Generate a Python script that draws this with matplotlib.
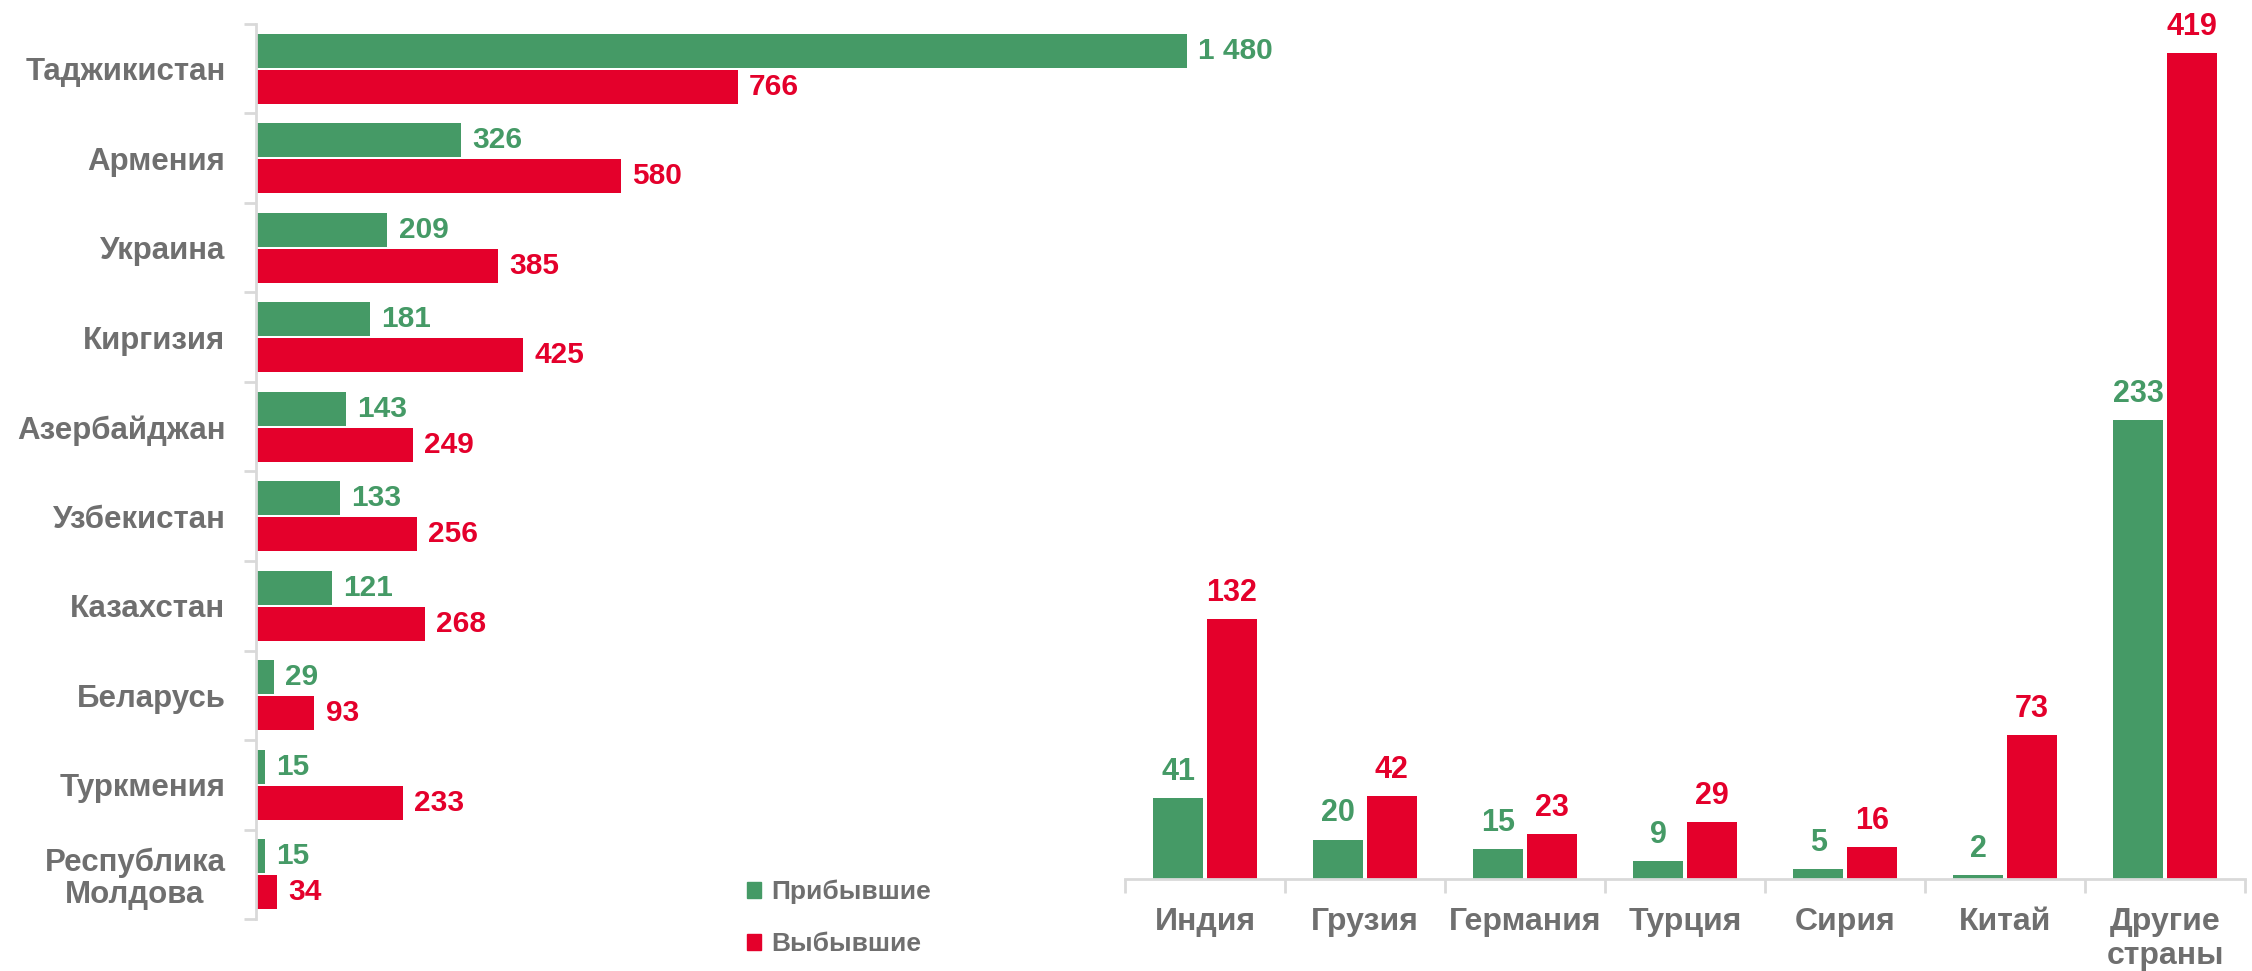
import numpy as np
import matplotlib
matplotlib.use("Agg")
import matplotlib.pyplot as plt
from matplotlib.patches import Patch

plt.rcParams['font.family'] = ['Liberation Sans', 'DejaVu Sans']
plt.rcParams['font.weight'] = 'bold'

# данные: страны СНГ (левая диаграмма)
cis_countries = ['Таджикистан', 'Армения', 'Украина', 'Киргизия', 'Азербайджан',
                 'Узбекистан', 'Казахстан', 'Беларусь', 'Туркмения', 'Республика\nМолдова']
cis_arrived = [1480, 326, 209, 181, 143, 133, 121, 29, 15, 15]
cis_departed = [766, 580, 385, 425, 249, 256, 268, 93, 233, 34]

# данные: страны дальнего зарубежья (правая диаграмма)
far_countries = ['Индия', 'Грузия', 'Германия', 'Турция', 'Сирия', 'Китай', 'Другие\nстраны']
far_arrived = [41, 20, 15, 9, 5, 2, 233]
far_departed = [132, 42, 23, 29, 16, 73, 419]

legend_labels = ['Прибывшие', 'Выбывшие']

GREEN = '#459a66'
RED = '#e4002b'
GRAY = '#6f6f6f'
LINE = '#d9d9d9'


def fmt(v):
    return f'{v:,}'.replace(',', ' ')


fig = plt.figure(figsize=(22.52, 9.71), dpi=100)
fig.patch.set_facecolor('white')

# левая диаграмма - горизонтальные столбцы
ax1 = fig.add_axes([256 / 2252, 52 / 971, 1044 / 2252, 895 / 971])
ax1.patch.set_alpha(0)
y = np.arange(len(cis_countries))
h = 0.38
b1 = ax1.barh(y - 0.2, cis_arrived, height=h, color=GREEN)
b2 = ax1.barh(y + 0.2, cis_departed, height=h, color=RED)
for bars, vals, c in [(b1, cis_arrived, GREEN), (b2, cis_departed, RED)]:
    for bar, v in zip(bars, vals):
        ax1.annotate(fmt(v), (bar.get_width(), bar.get_y() + bar.get_height() / 2),
                     xytext=(8, 0), textcoords='offset points', ha='left', va='center',
                     fontsize=21.5, fontweight='bold', color=c)
ax1.set_xlim(0, 1660)
ax1.set_ylim(len(cis_countries) - 0.5, -0.5)
ax1.set_yticks(y)
ax1.set_yticklabels(cis_countries, fontsize=22.5, fontweight='bold', color=GRAY,
                    multialignment='center', linespacing=1.1)
ax1.set_yticks(np.arange(len(cis_countries) + 1) - 0.5, minor=True)
ax1.tick_params(axis='y', which='major', length=0, pad=22)
ax1.tick_params(axis='y', which='minor', length=9, width=2, color=LINE)
ax1.set_xticks([])
for s in ['top', 'right', 'bottom']:
    ax1.spines[s].set_visible(False)
ax1.spines['left'].set_color(LINE)
ax1.spines['left'].set_linewidth(2)

# правая диаграмма - вертикальные столбцы
ax2 = fig.add_axes([1125 / 2252, 92 / 971, 1120 / 2252, 859 / 971])
ax2.patch.set_alpha(0)
x = np.arange(len(far_countries))
w = 0.31
c1 = ax2.bar(x - 0.168, far_arrived, width=w, color=GREEN)
c2 = ax2.bar(x + 0.168, far_departed, width=w, color=RED)
for bars, vals, c in [(c1, far_arrived, GREEN), (c2, far_departed, RED)]:
    for bar, v in zip(bars, vals):
        ax2.annotate(fmt(v), (bar.get_x() + bar.get_width() / 2, bar.get_height()),
                     xytext=(0, 8), textcoords='offset points', ha='center', va='bottom',
                     fontsize=22, fontweight='bold', color=c)
ax2.set_ylim(0, 436)
ax2.set_xlim(-0.5, len(far_countries) - 0.5)
ax2.set_xticks(x)
ax2.set_xticklabels(far_countries, fontsize=23, fontweight='bold', color=GRAY,
                    linespacing=1.2)
ax2.set_xticks(np.arange(len(far_countries) + 1) - 0.5, minor=True)
ax2.tick_params(axis='x', which='major', length=0, pad=20)
ax2.tick_params(axis='x', which='minor', length=10, width=2, color=LINE)
ax2.set_yticks([])
for s in ['top', 'right', 'left']:
    ax2.spines[s].set_visible(False)
ax2.spines['bottom'].set_color(LINE)
ax2.spines['bottom'].set_linewidth(2)

# легенда
handles = [Patch(color=GREEN), Patch(color=RED)]
leg = fig.legend(handles, legend_labels, loc='upper left',
                 bbox_to_anchor=(747 / 2252, 1 - 880 / 971), frameon=False,
                 borderpad=0, borderaxespad=0, handlelength=0.53, handleheight=0.53,
                 handletextpad=0.4, labelspacing=1.05,
                 prop={'size': 19, 'weight': 'bold'})
for t in leg.get_texts():
    t.set_color(GRAY)

fig.savefig('out.png', dpi=100, facecolor='white')
